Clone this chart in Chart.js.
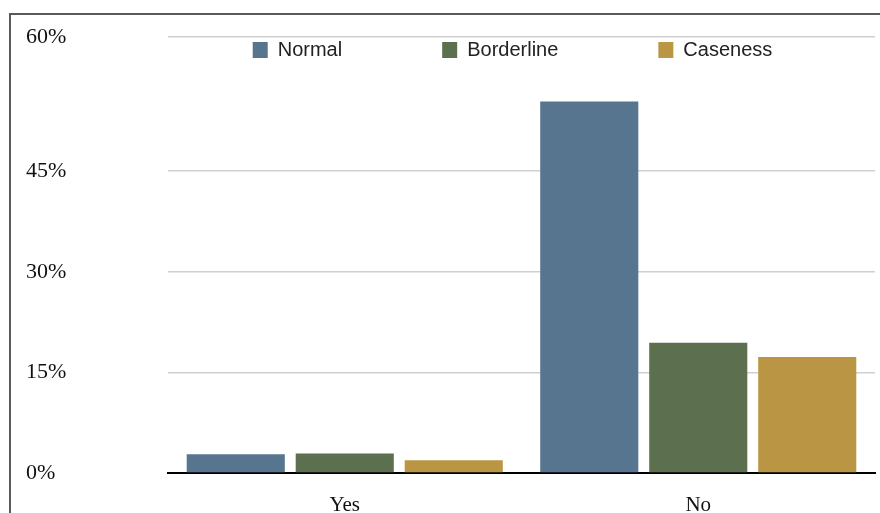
<!DOCTYPE html>
<html>
<head>
<meta charset="utf-8">
<title>Normal / Borderline / Caseness</title>
<script src="https://cdn.jsdelivr.net/npm/chart.js@4.4.1/dist/chart.umd.min.js"></script>
<style>
  html, body { margin: 0; padding: 0; background: #fff; }
  #wrap { position: relative; width: 880px; height: 513px; overflow: hidden; }
  #frame { position: absolute; left: 9px; top: 13px; right: -5px; bottom: -5px;
           border-top: 2px solid #5a5a5a; border-left: 2px solid #5a5a5a; }
  canvas { position: absolute; left: 0; top: 0; }
</style>
</head>
<body>
<div id="wrap">
  <div id="frame"></div>
  <canvas id="barChart" width="880" height="513"></canvas>
</div>
<script>
// Data
const categories = ['Yes', 'No'];
const normalValues = [2.8, 55.4];
const borderlineValues = [2.9, 19.4];
const casenessValues = [1.9, 17.3];

// y axis: grid lines where the picture has them, labels as printed
const yTickValues = [0, 15, 30, 45, 65];
const yTickLabels = ['0%', '15%', '30%', '45%', '60%'];

const serif = "'Times New Roman', 'Liberation Serif', serif";
const sans = "Arial, 'Liberation Sans', sans-serif";

// Move the legend row down inside the plot, under the top grid line
const legendInsidePlot = {
    id: 'legendInsidePlot',
    afterLayout(chart) {
        const legend = chart.legend;
        const area = chart.chartArea;
        const gap = legend.options.labels.padding;
        legend.top = area.top + 3 - gap;
        legend.bottom = area.top + 30;
        const shift = (area.left + area.right) / 2 - 9 - (legend.left + legend.right) / 2;
        legend.left += shift;
        legend.right += shift;
    }
};

document.addEventListener("DOMContentLoaded", () => {
    const ctx = document.getElementById('barChart').getContext('2d');

    const chart = new Chart(ctx, {
        type: 'bar',
        data: {
            labels: categories,
            datasets: [
                { label: 'Normal', data: normalValues, backgroundColor: '#57758f' },
                { label: 'Borderline', data: borderlineValues, backgroundColor: '#5c7050' },
                { label: 'Caseness', data: casenessValues, backgroundColor: '#ba9644' }
            ]
        },
        plugins: [legendInsidePlot],
        options: {
            responsive: false,
            animation: false,
            devicePixelRatio: 1,
            layout: { padding: { top: 23, left: 26, right: 5, bottom: 0 } },
            datasets: {
                bar: { categoryPercentage: 0.925, barPercentage: 0.9, borderWidth: 0 }
            },
            plugins: {
                tooltip: { enabled: false },
                legend: {
                    position: 'top',
                    maxHeight: 14,
                    labels: {
                        boxWidth: 15,
                        boxHeight: 16,
                        padding: 100,
                        color: '#222',
                        font: { family: sans, size: 20 }
                    }
                }
            },
            scales: {
                x: {
                    grid: { display: false },
                    border: { display: true, color: '#000', width: 2 },
                    ticks: { color: '#111', padding: 12, font: { family: serif, size: 21 } },
                    afterFit: (scale) => { scale.height = 40; }
                },
                y: {
                    min: 0,
                    max: 65,
                    border: { display: false },
                    grid: { color: '#d0d0d0', lineWidth: 1.5, drawTicks: false },
                    afterBuildTicks: (scale) => {
                        scale.ticks = yTickValues.map(v => ({ value: v }));
                    },
                    ticks: {
                        crossAlign: 'far',
                        color: '#111',
                        font: { family: serif, size: 22 },
                        callback: (value, index) => yTickLabels[index]
                    },
                    afterFit: (scale) => { scale.width = 142; }
                }
            }
        }
    });
});
</script>
</body>
</html>
